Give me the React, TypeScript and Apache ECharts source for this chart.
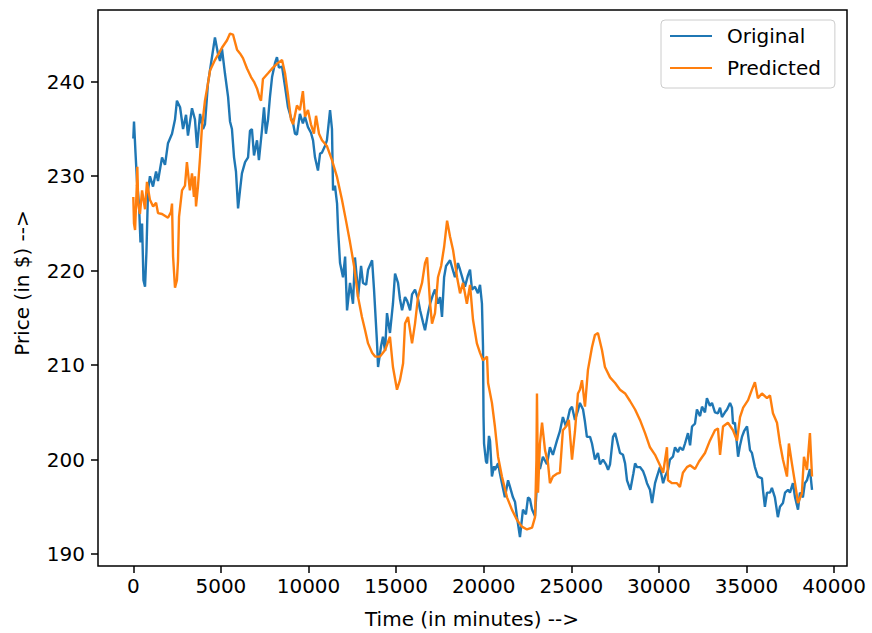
import React, { useEffect, useRef } from "react";
import * as echarts from "echarts";

const origTime = [
  0, 40, 125, 210, 325, 410, 500, 580, 670, 750, 840, 950, 1125, 1300, 1410, 1640, 1810, 1980, 2210, 2380,
  2490, 2670, 2840, 3010, 3120, 3350, 3520, 3640, 3810, 3980, 4090, 4260, 4490, 4660, 4830, 4950, 5060, 5230, 5410, 5520,
  5630, 5750, 5860, 5980, 6090, 6200, 6380, 6550, 6660, 6770, 6890, 7060, 7170, 7350, 7460, 7570, 7690, 7800, 7920, 8090,
  8200, 8310, 8490, 8660, 8830, 9000, 9120, 9230, 9340, 9510, 9680, 9800, 9970, 10140, 10260, 10370, 10540, 10660, 10770, 10940,
  11050, 11230, 11340, 11400, 11510, 11630, 11690, 11800, 11970, 12090, 12200, 12370, 12540, 12650, 12770, 12830, 13000, 13110, 13290, 13400,
  13630, 13740, 13910, 13970, 14140, 14250, 14370, 14480, 14650, 14820, 14940, 15110, 15220, 15340, 15510, 15630, 15800, 15910, 16080, 16250,
  16370, 16540, 16650, 16820, 16940, 17110, 17220, 17390, 17510, 17620, 17740, 17850, 18080, 18250, 18360, 18530, 18650, 18820, 18930, 19100,
  19220, 19330, 19500, 19670, 19790, 19900, 19960, 19990, 20020, 20130, 20190, 20300, 20360, 20470, 20590, 20640, 20820, 20930, 21040, 21210,
  21390, 21500, 21670, 21790, 21900, 22070, 22240, 22410, 22530, 22640, 22760, 22930, 23040, 23100, 23210, 23380, 23610, 23780, 23950, 24180,
  24350, 24520, 24700, 24920, 25040, 25210, 25380, 25490, 25670, 25780, 25890, 26070, 26180, 26350, 26520, 26640, 26810, 26980, 27100, 27210,
  27380, 27500, 27610, 27780, 27950, 28070, 28180, 28370, 28540, 28640, 28750, 28920, 29090, 29210, 29320, 29490, 29610, 29780, 29890, 30060,
  30240, 30350, 30520, 30630, 30800, 30920, 31090, 31200, 31370, 31490, 31660, 31780, 31890, 32060, 32170, 32350, 32460, 32630, 32740, 32910,
  33030, 33200, 33370, 33490, 33600, 33770, 33890, 34060, 34170, 34230, 34340, 34520, 34630, 34740, 34860, 35030, 35200, 35310, 35480, 35650,
  35880, 35940, 36050, 36170, 36340, 36450, 36620, 36790, 36910, 37080, 37200, 37370, 37480, 37650, 37770, 37940, 38050, 38220, 38330, 38450,
  38620, 38740,
];
const origPrice = [
  234, 235.8, 232.5, 229.5, 227, 223, 225, 219, 218.3, 222, 228.5, 230, 228.9, 230.5, 229.5, 232, 231.2, 233.5, 234.5, 236,
  238, 237.3, 235, 236.5, 234.3, 237.2, 236, 233, 236.6, 235, 235.5, 239.8, 242.6, 244.7, 243, 242.2, 243.5, 240.9, 238.4, 235.8,
  235, 232, 230.5, 226.6, 228.5, 230.3, 231.5, 232, 234.8, 235, 232.2, 233.8, 231.7, 235, 237.3, 234.5, 236, 238.4, 240.5, 242,
  242.6, 241.5, 241.6, 239.5, 237.3, 236.2, 235.6, 234.5, 234.4, 236.6, 235.6, 236.3, 235.2, 234.6, 233.8, 232, 230.6, 232.4, 232.5, 233.2,
  233.8, 237, 235, 228.5, 229, 227.1, 224.3, 220.8, 219.3, 221.5, 215.8, 218.7, 216.5, 221.4, 219, 217.2, 220.5, 218.7, 218.5, 220.1,
  221.1, 218, 212.4, 209.8, 212, 213, 211.5, 215.5, 213.4, 216.5, 219.7, 218.7, 217, 215.8, 217.2, 216.8, 215.8, 217.5, 218, 217,
  215.8, 214.5, 213.7, 215.5, 216.5, 217.5, 218, 216.5, 217.2, 215.1, 219.3, 220.5, 221.1, 220, 219.3, 220.8, 220.1, 219, 218.3, 219.5,
  220.1, 218, 218.3, 217.6, 218.5, 216.5, 212, 204.5, 201.7, 199.8, 199.6, 202.5, 202, 198.2, 199.3, 198.9, 199.6, 198.5, 197.5, 196,
  197.8, 197.1, 196, 195.5, 193.9, 191.8, 194.7, 194.2, 196, 195.8, 194.7, 194, 197.5, 199.6, 199, 200.3, 199.5, 201.3, 200.5, 202,
  203, 204.5, 203.5, 205.3, 205.6, 204.2, 205.2, 206, 205.3, 204, 202.4, 202.4, 201.7, 200, 200.7, 199.5, 200, 199.5, 198.9, 199.5,
  202.4, 202.8, 202, 200.7, 200.5, 199.6, 197.8, 196.8, 198.5, 199.6, 199.2, 199.2, 198.8, 198.2, 197.5, 196.8, 195.4, 197.5, 198.2, 199.2,
  197.5, 198.2, 198.9, 200, 200.3, 201.3, 200.8, 201.3, 201, 201.7, 202.8, 201.5, 203.5, 203.8, 205.3, 204.6, 205.6, 205, 206.5, 205.7,
  206, 205, 204.9, 205.5, 204.5, 205, 205.3, 206, 205.5, 203.8, 203.9, 200.3, 201.5, 202.4, 203, 203.5, 201, 200.7, 199.2, 198.2,
  198, 196.8, 195, 196.5, 196.5, 197, 196, 193.9, 195, 195.4, 196.5, 196.8, 196.5, 197.5, 196, 194.7, 196.5, 196, 197.5, 197.8,
  199, 196.8,
];

const predTime = [
  0, 40, 100, 200, 230, 280, 380, 500, 670, 780, 950, 1130, 1300, 1410, 1640, 1980, 2150, 2210, 2270, 2380,
  2490, 2550, 2610, 2780, 2950, 3060, 3230, 3350, 3460, 3520, 3580, 3690, 3810, 3920, 4090, 4260, 4380, 4660, 5060, 5350,
  5520, 5690, 5920, 6090, 6260, 6490, 6720, 6890, 7060, 7230, 7290, 7400, 7690, 7970, 8260, 8490, 8660, 8830, 9000, 9120,
  9340, 9510, 9680, 9800, 9970, 10140, 10310, 10430, 10600, 10770, 11050, 11340, 11630, 11910, 12140, 12370, 12600, 12830, 13050, 13230,
  13400, 13630, 13800, 14080, 14370, 14650, 14820, 15050, 15220, 15400, 15510, 15680, 15910, 16080, 16250, 16480, 16650, 16770, 16940, 17050,
  17220, 17390, 17570, 17740, 17910, 18080, 18250, 18480, 18650, 18820, 19040, 19220, 19390, 19610, 19790, 19960, 20190, 20250, 20470, 20640,
  20820, 21040, 21330, 21610, 21900, 22180, 22470, 22760, 22930, 23010, 23040, 23100, 23210, 23330, 23500, 23670, 23780, 23950, 24180, 24350,
  24520, 24700, 24860, 25040, 25210, 25380, 25490, 25610, 25780, 25950, 26180, 26350, 26520, 26750, 26920, 27210, 27500, 27780, 28070, 28350,
  28640, 28920, 29210, 29490, 29780, 30060, 30240, 30460, 30520, 30750, 31030, 31200, 31370, 31600, 31780, 32060, 32290, 32630, 32910, 33200,
  33370, 33490, 33660, 33940, 34230, 34460, 34630, 34810, 35090, 35310, 35480, 35650, 35880, 36170, 36340, 36510, 36740, 36910, 37080, 37310,
  37420, 37590, 37770, 37940, 38160, 38280, 38450, 38620, 38740,
];
const predPrice = [
  227.8, 225, 224.3, 229, 231, 227.1, 226, 228.5, 226.5, 229.4, 227.5, 226.8, 227.2, 226.1, 226, 225.6, 226.2, 227.1, 221.5, 218.2,
  219, 221, 225.7, 228.5, 229, 231.5, 228.5, 230.3, 227.8, 230, 226.8, 228.9, 232, 235.2, 238, 239.8, 241.2, 242.3, 243.6, 244.4,
  245.1, 245, 243.4, 243, 242.5, 241.4, 240.5, 240, 239.3, 238.2, 238, 240.3, 240.9, 241.5, 242, 242.3, 240.9, 238.6, 236, 235.5,
  237.5, 237, 239, 236.3, 237, 235.5, 234.5, 236.4, 234.5, 233.8, 233.2, 231.7, 229.9, 227.5, 225.3, 223, 220.5, 217.2, 215.1, 213.7,
  212.3, 211.3, 210.9, 210.9, 211.6, 213, 209.8, 207.4, 208.4, 210.2, 214.4, 215.1, 212.3, 214.4, 217.2, 218.7, 220.8, 221.4, 216.5, 214.4,
  215.5, 219.3, 220.5, 222.5, 225.3, 223.6, 222.2, 219.3, 217.6, 218.7, 216.5, 218.5, 214.8, 212.3, 211.3, 210.5, 210.9, 208.1, 206, 203.5,
  200.3, 198.2, 196, 194.7, 193.6, 192.9, 192.6, 192.8, 193.9, 200, 207, 196.5, 201.7, 203.9, 201, 199.6, 197.5, 198.2, 198.5, 198.6,
  203.1, 203.5, 204.2, 200, 203, 207, 207.4, 208.4, 205.6, 209.5, 211.9, 213.2, 213.4, 211.6, 209.8, 208.7, 208.1, 207.4, 207, 206.2,
  205.3, 204.2, 202.8, 201.3, 200.5, 199.4, 198.6, 201.3, 197.8, 197.5, 197.5, 197.1, 198.6, 199.2, 199.4, 199, 199.8, 200.7, 202, 203.1,
  203.3, 200.5, 203.5, 203.9, 203.1, 202, 204.5, 205.5, 206.3, 207.4, 208.2, 206.5, 207, 206.5, 206.8, 204.9, 203.9, 201.7, 200, 198.2,
  201.7, 199.6, 197.5, 195.4, 196.4, 200.3, 198.9, 202.8, 198.2,
];

const seriesNames = ["Original", "Predicted"];
const seriesColors = ["#1f77b4", "#ff7f0e"];
const xTicks = [0, 5000, 10000, 15000, 20000, 25000, 30000, 35000, 40000];
const yTicks = [190, 200, 210, 220, 230, 240];
const xTitle = "Time (in minutes) -->";
const yTitle = "Price (in $) -->";

export default function App() {
  const ref = useRef<HTMLDivElement>(null);
  useEffect(() => {
    const chart = echarts.init(ref.current!, null, { renderer: "svg" });
    const font = "DejaVu Sans";
    const tickStyle = { color: "#000", width: 1.5 };
    const plain = (v: number) => String(v);
    chart.setOption({
      animation: false,
      backgroundColor: "#ffffff",
      textStyle: { fontFamily: font },
      grid: {
        left: 98,
        top: 10,
        right: 25,
        bottom: 67,
        show: true,
        borderColor: "#000",
        borderWidth: 1.5,
        backgroundColor: "transparent",
      },
      xAxis: {
        type: "value",
        min: -2015,
        max: 40736,
        axisLine: { show: false, onZero: false },
        splitLine: { show: false },
        axisTick: { show: true, inside: false, length: 7, lineStyle: tickStyle, customValues: xTicks },
        axisLabel: { customValues: xTicks, formatter: plain, margin: 10, color: "#000", fontSize: 20, fontFamily: font },
      },
      yAxis: {
        type: "value",
        min: 188.73,
        max: 247.6,
        axisLine: { show: false, onZero: false },
        splitLine: { show: false },
        axisTick: { show: true, inside: false, length: 7, lineStyle: tickStyle, customValues: yTicks },
        axisLabel: { customValues: yTicks, formatter: plain, margin: 13, color: "#000", fontSize: 20, fontFamily: font },
      },
      legend: {
        data: seriesNames,
        orient: "vertical",
        left: 661,
        top: 20,
        padding: [6, 14, 10, 9],
        itemGap: 12,
        itemWidth: 42,
        itemHeight: 2,
        icon: "rect",
        backgroundColor: "rgba(255,255,255,0.8)",
        borderColor: "#cccccc",
        borderWidth: 1,
        borderRadius: 4,
        textStyle: { fontSize: 20, color: "#000", fontFamily: font, padding: [0, 0, 0, 10] },
      },
      graphic: [
        {
          type: "text",
          x: 472,
          y: 619,
          style: { text: xTitle, fontSize: 20, fontFamily: font, fill: "#000", align: "center", verticalAlign: "middle" },
        },
        {
          type: "text",
          x: 22,
          y: 283,
          rotation: Math.PI / 2,
          style: { text: yTitle, fontSize: 20, fontFamily: font, fill: "#000", align: "center", verticalAlign: "middle" },
        },
      ],
      series: [
        {
          name: seriesNames[0],
          type: "line",
          symbol: "none",
          showSymbol: false,
          color: seriesColors[0],
          lineStyle: { color: seriesColors[0], width: 2.4 },
          emphasis: { disabled: true },
          data: origTime.map((t, i) => [t, origPrice[i]]),
        },
        {
          name: seriesNames[1],
          type: "line",
          symbol: "none",
          showSymbol: false,
          color: seriesColors[1],
          lineStyle: { color: seriesColors[1], width: 2.4 },
          emphasis: { disabled: true },
          data: predTime.map((t, i) => [t, predPrice[i]]),
        },
      ],
    });
    return () => chart.dispose();
  }, []);
  return <div ref={ref} style={{ position: "fixed", left: 0, top: 0, width: 872, height: 633 }} />;
}
